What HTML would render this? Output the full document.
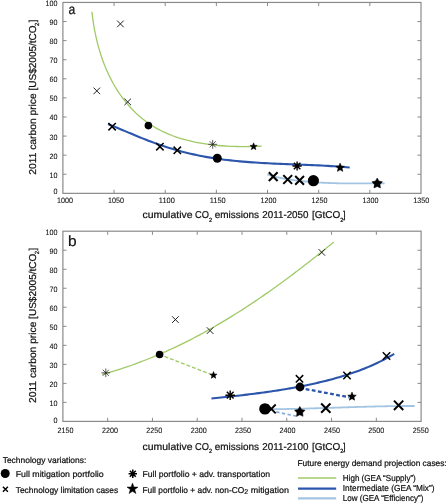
<!DOCTYPE html>
<html><head><meta charset="utf-8"><title>Figure</title>
<style>html,body{margin:0;padding:0;background:#fff}svg{display:block;will-change:transform}text{font-family:"Liberation Sans",sans-serif;fill:#111;stroke:#111;stroke-width:0.22px;text-rendering:geometricPrecision}text.t{stroke-width:0.08px}</style>
</head><body>
<svg width="446" height="503" viewBox="0 0 446 503">
<rect width="446" height="503" fill="#fff"/>
<!-- panel a -->
<g stroke="#8a8a8a" stroke-width="1.2" fill="none"><rect x="62.90" y="2.45" width="358.10" height="190.90"/><path d="M114.06 193.35v-3.60M114.06 2.45v3.60M165.21 193.35v-3.60M165.21 2.45v3.60M216.37 193.35v-3.60M216.37 2.45v3.60M267.53 193.35v-3.60M267.53 2.45v3.60M318.69 193.35v-3.60M318.69 2.45v3.60M369.84 193.35v-3.60M369.84 2.45v3.60M62.90 21.54h3.60M421.00 21.54h-3.60M62.90 40.63h3.60M421.00 40.63h-3.60M62.90 59.72h3.60M421.00 59.72h-3.60M62.90 78.81h3.60M421.00 78.81h-3.60M62.90 97.90h3.60M421.00 97.90h-3.60M62.90 116.99h3.60M421.00 116.99h-3.60M62.90 136.08h3.60M421.00 136.08h-3.60M62.90 155.17h3.60M421.00 155.17h-3.60M62.90 174.26h3.60M421.00 174.26h-3.60" stroke-width="1"/></g>
<text x="57.60" y="193.70" font-size="7.8" text-anchor="end" textLength="4.0" lengthAdjust="spacingAndGlyphs" class="t">0</text>
<text x="57.60" y="177.76" font-size="7.8" text-anchor="end" textLength="8.0" lengthAdjust="spacingAndGlyphs" class="t">10</text>
<text x="57.60" y="158.67" font-size="7.8" text-anchor="end" textLength="8.0" lengthAdjust="spacingAndGlyphs" class="t">20</text>
<text x="57.60" y="139.58" font-size="7.8" text-anchor="end" textLength="8.0" lengthAdjust="spacingAndGlyphs" class="t">30</text>
<text x="57.60" y="120.49" font-size="7.8" text-anchor="end" textLength="8.0" lengthAdjust="spacingAndGlyphs" class="t">40</text>
<text x="57.60" y="101.40" font-size="7.8" text-anchor="end" textLength="8.0" lengthAdjust="spacingAndGlyphs" class="t">50</text>
<text x="57.60" y="82.31" font-size="7.8" text-anchor="end" textLength="8.0" lengthAdjust="spacingAndGlyphs" class="t">60</text>
<text x="57.60" y="63.22" font-size="7.8" text-anchor="end" textLength="8.0" lengthAdjust="spacingAndGlyphs" class="t">70</text>
<text x="57.60" y="44.13" font-size="7.8" text-anchor="end" textLength="8.0" lengthAdjust="spacingAndGlyphs" class="t">80</text>
<text x="57.60" y="25.04" font-size="7.8" text-anchor="end" textLength="8.0" lengthAdjust="spacingAndGlyphs" class="t">90</text>
<text x="57.60" y="5.95" font-size="7.8" text-anchor="end" textLength="12.0" lengthAdjust="spacingAndGlyphs" class="t">100</text>
<text x="65.00" y="202.80" font-size="7.8" text-anchor="middle" textLength="16.0" lengthAdjust="spacingAndGlyphs" class="t">1000</text>
<text x="115.90" y="202.80" font-size="7.8" text-anchor="middle" textLength="16.0" lengthAdjust="spacingAndGlyphs" class="t">1050</text>
<text x="166.80" y="202.80" font-size="7.8" text-anchor="middle" textLength="16.0" lengthAdjust="spacingAndGlyphs" class="t">1100</text>
<text x="217.70" y="202.80" font-size="7.8" text-anchor="middle" textLength="16.0" lengthAdjust="spacingAndGlyphs" class="t">1150</text>
<text x="268.60" y="202.80" font-size="7.8" text-anchor="middle" textLength="16.0" lengthAdjust="spacingAndGlyphs" class="t">1200</text>
<text x="319.50" y="202.80" font-size="7.8" text-anchor="middle" textLength="16.0" lengthAdjust="spacingAndGlyphs" class="t">1250</text>
<text x="370.40" y="202.80" font-size="7.8" text-anchor="middle" textLength="16.0" lengthAdjust="spacingAndGlyphs" class="t">1300</text>
<text x="421.30" y="202.80" font-size="7.8" text-anchor="middle" textLength="16.0" lengthAdjust="spacingAndGlyphs" class="t">1350</text>
<text x="68.5" y="13.6" font-size="13.8" textLength="6.8" lengthAdjust="spacingAndGlyphs">a</text>
<path d="M91.92 11.70L92.25 14.68L92.62 17.69L93.04 20.71L93.50 23.74L94.00 26.78L94.55 29.83L95.15 32.88L95.79 35.94L96.48 38.99L97.22 42.05L98.00 45.10L98.84 48.14L99.73 51.17L100.67 54.19L101.66 57.20L102.71 60.19L103.81 63.17L104.96 66.12L106.17 69.05L107.44 71.95L108.76 74.82L110.15 77.66L111.59 80.47L113.09 83.25L114.65 85.98L116.27 88.68L117.96 91.33L119.71 93.94L121.51 96.50L123.38 99.01L125.30 101.47L127.28 103.88L129.32 106.22L131.42 108.51L133.57 110.74L135.78 112.90L138.04 114.99L140.36 117.02L142.73 118.98L145.15 120.86L147.63 122.66L150.16 124.39L152.73 126.04L155.36 127.61L158.03 129.10L160.75 130.52L163.51 131.87L166.31 133.14L169.15 134.35L172.02 135.49L174.93 136.56L177.87 137.57L180.84 138.51L183.83 139.39L186.85 140.22L189.90 140.98L192.97 141.69L196.05 142.34L199.15 142.94L202.27 143.48L205.40 143.98L208.54 144.43L211.69 144.83L214.85 145.18L218.01 145.49L221.18 145.76L224.34 145.98L227.51 146.17L230.66 146.32L233.82 146.43L236.96 146.51L240.10 146.56L243.22 146.57L246.33 146.56L249.43 146.52L252.50 146.45L255.55 146.35L258.59 146.23L261.59 146.09" stroke="#a0ca67" stroke-width="1.30" fill="none" stroke-linejoin="round"/>
<path d="M108.03 124.06L110.85 125.20L113.68 126.35L116.52 127.53L119.37 128.72L122.23 129.92L125.10 131.13L127.98 132.35L130.87 133.57L133.78 134.78L136.69 135.98L139.60 137.18L142.53 138.36L145.47 139.52L148.42 140.67L151.37 141.78L154.33 142.87L157.30 143.94L160.28 144.97L163.27 145.98L166.26 146.95L169.26 147.90L172.27 148.82L175.28 149.71L178.31 150.56L181.33 151.39L184.37 152.19L187.41 152.95L190.46 153.68L193.51 154.38L196.57 155.05L199.63 155.68L202.70 156.28L205.78 156.85L208.86 157.39L211.94 157.90L215.03 158.38L218.13 158.83L221.22 159.26L224.33 159.67L227.43 160.04L230.54 160.40L233.66 160.74L236.77 161.05L239.89 161.34L243.02 161.62L246.14 161.88L249.27 162.12L252.40 162.34L255.54 162.55L258.67 162.75L261.81 162.94L264.95 163.11L268.09 163.28L271.23 163.43L274.37 163.58L277.52 163.72L280.66 163.86L283.81 163.99L286.95 164.11L290.10 164.24L293.25 164.36L296.39 164.48L299.54 164.61L302.68 164.73L305.83 164.86L308.97 164.99L312.12 165.12L315.26 165.26L318.40 165.41L321.54 165.57L324.68 165.74L327.81 165.91L330.95 166.10L334.08 166.30L337.21 166.51L340.33 166.74L343.46 166.98L346.58 167.24L349.70 167.52" stroke="#2b56ab" stroke-width="2.10" fill="none" stroke-linejoin="round"/>
<path d="M267.37 174.48L268.81 174.93L270.25 175.36L271.69 175.78L273.13 176.18L274.58 176.55L276.03 176.92L277.48 177.26L278.94 177.59L280.39 177.91L281.85 178.21L283.31 178.50L284.78 178.77L286.24 179.03L287.71 179.28L289.18 179.51L290.65 179.74L292.12 179.95L293.59 180.16L295.07 180.36L296.55 180.54L298.02 180.72L299.51 180.89L300.99 181.06L302.47 181.21L303.95 181.36L305.44 181.51L306.93 181.65L308.42 181.78L309.91 181.90L311.40 182.02L312.89 182.13L314.38 182.24L315.87 182.34L317.37 182.44L318.86 182.53L320.36 182.61L321.86 182.69L323.35 182.77L324.85 182.84L326.35 182.90L327.85 182.97L329.35 183.02L330.85 183.07L332.35 183.12L333.85 183.17L335.35 183.21L336.85 183.24L338.35 183.28L339.85 183.31L341.35 183.33L342.86 183.36L344.36 183.38L345.86 183.39L347.36 183.41L348.86 183.42L350.36 183.43L351.86 183.44L353.36 183.44L354.86 183.45L356.36 183.45L357.85 183.45L359.35 183.44L360.85 183.44L362.35 183.43L363.84 183.43L365.34 183.42L366.83 183.41L368.32 183.40L369.81 183.39L371.30 183.38L372.79 183.37L374.28 183.36L375.77 183.35L377.26 183.34L378.74 183.33L380.22 183.32L381.71 183.31L383.19 183.30L384.67 183.29" stroke="#a3c5e3" stroke-width="1.80" fill="none" stroke-linejoin="round"/>
<path d="M117.10 20.60L123.70 27.20M117.10 27.20L123.70 20.60" stroke="#222" stroke-width="1.00" fill="none"/>
<path d="M93.50 87.60L100.10 94.20M93.50 94.20L100.10 87.60" stroke="#222" stroke-width="1.00" fill="none"/>
<path d="M124.40 98.60L131.00 105.20M124.40 105.20L131.00 98.60" stroke="#222" stroke-width="1.00" fill="none"/>
<circle cx="148.40" cy="125.60" r="3.80" fill="#000"/>
<path d="M208.30 144.30L217.10 144.30M209.59 141.19L215.81 147.41M212.70 139.90L212.70 148.70M215.81 141.19L209.59 147.41" stroke="#222" stroke-width="0.75" fill="none"/>
<polygon points="253.60,142.80 254.58,145.25 257.21,145.43 255.19,147.12 255.83,149.67 253.60,148.27 251.37,149.67 252.01,147.12 249.99,145.43 252.62,145.25" fill="#000" stroke="#000" stroke-width="0.5" stroke-linejoin="round"/>
<path d="M108.40 123.00L115.80 130.40M108.40 130.40L115.80 123.00" stroke="#000" stroke-width="1.50" fill="none"/>
<path d="M156.20 143.00L163.60 150.40M156.20 150.40L163.60 143.00" stroke="#000" stroke-width="1.50" fill="none"/>
<path d="M173.60 146.60L181.00 154.00M173.60 154.00L181.00 146.60" stroke="#000" stroke-width="1.50" fill="none"/>
<circle cx="217.30" cy="158.20" r="4.50" fill="#000"/>
<path d="M292.50 166.00L301.70 166.00M293.85 162.75L300.35 169.25M297.10 161.40L297.10 170.60M300.35 162.75L293.85 169.25" stroke="#000" stroke-width="1.40" fill="none"/>
<polygon points="340.10,163.10 341.34,165.99 344.47,166.28 342.11,168.35 342.80,171.42 340.10,169.82 337.40,171.42 338.09,168.35 335.73,166.28 338.86,165.99" fill="#000" stroke="#000" stroke-width="0.5" stroke-linejoin="round"/>
<path d="M268.80 172.20L277.60 181.00M268.80 181.00L277.60 172.20" stroke="#000" stroke-width="2.00" fill="none"/>
<path d="M283.30 175.10L292.10 183.90M283.30 183.90L292.10 175.10" stroke="#000" stroke-width="2.00" fill="none"/>
<path d="M295.20 176.00L304.00 184.80M295.20 184.80L304.00 176.00" stroke="#000" stroke-width="2.00" fill="none"/>
<circle cx="313.40" cy="180.70" r="5.60" fill="#000"/>
<polygon points="377.20,178.00 378.95,181.10 382.43,181.80 380.02,184.42 380.43,187.95 377.20,186.47 373.97,187.95 374.38,184.42 371.97,181.80 375.45,181.10" fill="#000" stroke="#000" stroke-width="0.5" stroke-linejoin="round"/>
<!-- panel b -->
<g stroke="#8a8a8a" stroke-width="1.2" fill="none"><rect x="62.90" y="231.20" width="358.20" height="190.20"/><path d="M107.68 421.40v-3.60M107.68 231.20v3.60M152.45 421.40v-3.60M152.45 231.20v3.60M197.23 421.40v-3.60M197.23 231.20v3.60M242.00 421.40v-3.60M242.00 231.20v3.60M286.78 421.40v-3.60M286.78 231.20v3.60M331.55 421.40v-3.60M331.55 231.20v3.60M376.33 421.40v-3.60M376.33 231.20v3.60M62.90 250.22h3.60M421.10 250.22h-3.60M62.90 269.24h3.60M421.10 269.24h-3.60M62.90 288.26h3.60M421.10 288.26h-3.60M62.90 307.28h3.60M421.10 307.28h-3.60M62.90 326.30h3.60M421.10 326.30h-3.60M62.90 345.32h3.60M421.10 345.32h-3.60M62.90 364.34h3.60M421.10 364.34h-3.60M62.90 383.36h3.60M421.10 383.36h-3.60M62.90 402.38h3.60M421.10 402.38h-3.60" stroke-width="1"/></g>
<text x="57.60" y="422.90" font-size="7.8" text-anchor="end" textLength="4.0" lengthAdjust="spacingAndGlyphs" class="t">0</text>
<text x="57.60" y="405.88" font-size="7.8" text-anchor="end" textLength="8.0" lengthAdjust="spacingAndGlyphs" class="t">10</text>
<text x="57.60" y="386.86" font-size="7.8" text-anchor="end" textLength="8.0" lengthAdjust="spacingAndGlyphs" class="t">20</text>
<text x="57.60" y="367.84" font-size="7.8" text-anchor="end" textLength="8.0" lengthAdjust="spacingAndGlyphs" class="t">30</text>
<text x="57.60" y="348.82" font-size="7.8" text-anchor="end" textLength="8.0" lengthAdjust="spacingAndGlyphs" class="t">40</text>
<text x="57.60" y="329.80" font-size="7.8" text-anchor="end" textLength="8.0" lengthAdjust="spacingAndGlyphs" class="t">50</text>
<text x="57.60" y="310.78" font-size="7.8" text-anchor="end" textLength="8.0" lengthAdjust="spacingAndGlyphs" class="t">60</text>
<text x="57.60" y="291.76" font-size="7.8" text-anchor="end" textLength="8.0" lengthAdjust="spacingAndGlyphs" class="t">70</text>
<text x="57.60" y="272.74" font-size="7.8" text-anchor="end" textLength="8.0" lengthAdjust="spacingAndGlyphs" class="t">80</text>
<text x="57.60" y="253.72" font-size="7.8" text-anchor="end" textLength="8.0" lengthAdjust="spacingAndGlyphs" class="t">90</text>
<text x="57.60" y="234.70" font-size="7.8" text-anchor="end" textLength="12.0" lengthAdjust="spacingAndGlyphs" class="t">100</text>
<text x="65.50" y="432.50" font-size="7.8" text-anchor="middle" textLength="16.0" lengthAdjust="spacingAndGlyphs" class="t">2150</text>
<text x="109.90" y="432.50" font-size="7.8" text-anchor="middle" textLength="16.0" lengthAdjust="spacingAndGlyphs" class="t">2200</text>
<text x="154.30" y="432.50" font-size="7.8" text-anchor="middle" textLength="16.0" lengthAdjust="spacingAndGlyphs" class="t">2250</text>
<text x="198.70" y="432.50" font-size="7.8" text-anchor="middle" textLength="16.0" lengthAdjust="spacingAndGlyphs" class="t">2300</text>
<text x="243.10" y="432.50" font-size="7.8" text-anchor="middle" textLength="16.0" lengthAdjust="spacingAndGlyphs" class="t">2350</text>
<text x="287.50" y="432.50" font-size="7.8" text-anchor="middle" textLength="16.0" lengthAdjust="spacingAndGlyphs" class="t">2400</text>
<text x="331.90" y="432.50" font-size="7.8" text-anchor="middle" textLength="16.0" lengthAdjust="spacingAndGlyphs" class="t">2450</text>
<text x="376.30" y="432.50" font-size="7.8" text-anchor="middle" textLength="16.0" lengthAdjust="spacingAndGlyphs" class="t">2500</text>
<text x="420.70" y="432.50" font-size="7.8" text-anchor="middle" textLength="16.0" lengthAdjust="spacingAndGlyphs" class="t">2550</text>
<text x="67.9" y="246.3" font-size="14.8" textLength="8.6" lengthAdjust="spacingAndGlyphs">b</text>
<path d="M102.15 374.45L105.46 373.53L108.76 372.59L112.04 371.61L115.32 370.61L118.58 369.59L121.84 368.54L125.08 367.46L128.31 366.36L131.53 365.24L134.73 364.09L137.93 362.92L141.12 361.72L144.29 360.50L147.46 359.25L150.62 357.98L153.76 356.69L156.89 355.38L160.02 354.05L163.13 352.69L166.23 351.31L169.33 349.91L172.41 348.49L175.48 347.05L178.55 345.59L181.60 344.11L184.64 342.61L187.68 341.09L190.70 339.55L193.72 337.99L196.72 336.41L199.72 334.81L202.70 333.20L205.68 331.56L208.65 329.91L211.61 328.25L214.56 326.56L217.50 324.86L220.43 323.14L223.35 321.41L226.27 319.66L229.17 317.89L232.07 316.11L234.96 314.32L237.84 312.50L240.71 310.68L243.57 308.84L246.43 306.99L249.27 305.12L252.11 303.24L254.94 301.35L257.76 299.44L260.58 297.52L263.38 295.59L266.18 293.65L268.97 291.69L271.76 289.73L274.53 287.75L277.30 285.76L280.06 283.76L282.81 281.75L285.56 279.74L288.30 277.71L291.03 275.67L293.75 273.62L296.47 271.57L299.18 269.50L301.88 267.43L304.58 265.35L307.27 263.26L309.95 261.17L312.62 259.06L315.29 256.96L317.96 254.84L320.61 252.72L323.26 250.59L325.91 248.46L328.54 246.32L331.18 244.17L333.80 242.02" stroke="#a0ca67" stroke-width="1.30" fill="none" stroke-linejoin="round"/>
<path d="M159.0 354.3L212.6 375.0" stroke="#a0ca67" stroke-width="1.4" stroke-dasharray="3.9 2.0" fill="none"/>
<path d="M211.45 398.54L213.80 398.30L216.15 398.05L218.51 397.80L220.87 397.55L223.23 397.30L225.60 397.05L227.97 396.79L230.34 396.53L232.71 396.26L235.09 396.00L237.47 395.73L239.85 395.45L242.23 395.17L244.62 394.89L247.00 394.60L249.39 394.31L251.78 394.01L254.17 393.71L256.56 393.40L258.95 393.09L261.34 392.77L263.73 392.44L266.12 392.11L268.51 391.77L270.90 391.42L273.29 391.07L275.68 390.71L278.07 390.34L280.45 389.96L282.84 389.58L285.22 389.18L287.61 388.78L289.99 388.37L292.36 387.95L294.74 387.52L297.11 387.08L299.48 386.63L301.85 386.17L304.22 385.70L306.58 385.21L308.94 384.72L311.29 384.22L313.64 383.70L315.99 383.18L318.33 382.64L320.67 382.09L323.00 381.53L325.33 380.95L327.66 380.36L329.98 379.76L332.29 379.14L334.60 378.51L336.90 377.86L339.20 377.20L341.49 376.52L343.78 375.82L346.06 375.11L348.33 374.38L350.60 373.62L352.86 372.85L355.11 372.06L357.35 371.25L359.59 370.42L361.82 369.57L364.04 368.69L366.25 367.79L368.46 366.87L370.66 365.92L372.85 364.95L375.03 363.96L377.20 362.94L379.36 361.89L381.51 360.82L383.66 359.72L385.79 358.59L387.91 357.44L390.03 356.25L392.13 355.04L394.22 353.80" stroke="#2b56ab" stroke-width="2.10" fill="none" stroke-linejoin="round"/>
<path d="M299.6 387.95L349 397.25" stroke="#2b56ab" stroke-width="2.3" stroke-dasharray="3.8 2.4" fill="none"/>
<path d="M265.00 409.31L266.90 409.30L268.79 409.28L270.69 409.26L272.58 409.24L274.48 409.22L276.37 409.19L278.27 409.16L280.16 409.13L282.06 409.10L283.95 409.07L285.85 409.03L287.74 409.00L289.64 408.96L291.53 408.91L293.43 408.87L295.32 408.83L297.22 408.78L299.11 408.73L301.01 408.69L302.90 408.64L304.80 408.59L306.69 408.53L308.59 408.48L310.48 408.43L312.38 408.37L314.27 408.32L316.17 408.26L318.06 408.20L319.95 408.14L321.85 408.08L323.74 408.03L325.64 407.97L327.53 407.91L329.43 407.85L331.32 407.79L333.22 407.73L335.11 407.66L337.01 407.60L338.90 407.54L340.80 407.48L342.69 407.42L344.58 407.36L346.48 407.30L348.37 407.24L350.27 407.19L352.16 407.13L354.06 407.07L355.95 407.01L357.85 406.96L359.74 406.90L361.64 406.85L363.53 406.79L365.43 406.74L367.32 406.69L369.22 406.64L371.11 406.59L373.00 406.55L374.90 406.50L376.79 406.45L378.69 406.41L380.58 406.37L382.48 406.33L384.37 406.29L386.27 406.26L388.16 406.22L390.06 406.19L391.95 406.16L393.85 406.13L395.74 406.10L397.64 406.08L399.54 406.06L401.43 406.04L403.33 406.02L405.22 406.01L407.12 406.00L409.01 405.99L410.91 405.98L412.80 405.98L414.70 405.98" stroke="#a3c5e3" stroke-width="1.80" fill="none" stroke-linejoin="round"/>
<path d="M276.2 411.9L298 416.5" stroke="#86aedb" stroke-width="1.7" stroke-dasharray="3.4 2.4" fill="none"/>
<path d="M101.50 372.80L110.10 372.80M102.76 369.76L108.84 375.84M105.80 368.50L105.80 377.10M108.84 369.76L102.76 375.84" stroke="#222" stroke-width="0.75" fill="none"/>
<circle cx="159.60" cy="354.50" r="3.80" fill="#000"/>
<path d="M172.10 316.30L178.70 322.90M172.10 322.90L178.70 316.30" stroke="#222" stroke-width="1.00" fill="none"/>
<path d="M206.80 327.30L213.40 333.90M206.80 333.90L213.40 327.30" stroke="#222" stroke-width="1.00" fill="none"/>
<path d="M318.50 249.10L325.10 255.70M318.50 255.70L325.10 249.10" stroke="#222" stroke-width="1.00" fill="none"/>
<polygon points="213.50,371.50 214.48,373.95 217.11,374.13 215.09,375.82 215.73,378.37 213.50,376.97 211.27,378.37 211.91,375.82 209.89,374.13 212.52,373.95" fill="#000" stroke="#000" stroke-width="0.5" stroke-linejoin="round"/>
<path d="M225.40 395.20L235.00 395.20M226.81 391.81L233.59 398.59M230.20 390.40L230.20 400.00M233.59 391.81L226.81 398.59" stroke="#000" stroke-width="1.40" fill="none"/>
<path d="M295.80 375.10L303.20 382.50M295.80 382.50L303.20 375.10" stroke="#000" stroke-width="1.50" fill="none"/>
<circle cx="300.00" cy="387.00" r="4.40" fill="#000"/>
<path d="M343.30 371.80L350.70 379.20M343.30 379.20L350.70 371.80" stroke="#000" stroke-width="1.50" fill="none"/>
<path d="M382.80 352.30L390.20 359.70M382.80 359.70L390.20 352.30" stroke="#000" stroke-width="1.50" fill="none"/>
<polygon points="352.00,392.10 353.22,394.93 356.28,395.21 353.97,397.24 354.65,400.24 352.00,398.67 349.35,400.24 350.03,397.24 347.72,395.21 350.78,394.93" fill="#000" stroke="#000" stroke-width="0.5" stroke-linejoin="round"/>
<circle cx="264.90" cy="408.90" r="5.70" fill="#000"/>
<path d="M266.90 404.50L275.70 413.30M266.90 413.30L275.70 404.50" stroke="#000" stroke-width="1.80" fill="none"/>
<polygon points="299.80,406.40 301.55,409.50 305.03,410.20 302.62,412.82 303.03,416.35 299.80,414.87 296.57,416.35 296.98,412.82 294.57,410.20 298.05,409.50" fill="#000" stroke="#000" stroke-width="0.5" stroke-linejoin="round"/>
<path d="M321.15 403.45L330.45 412.75M321.15 412.75L330.45 403.45" stroke="#000" stroke-width="2.00" fill="none"/>
<path d="M393.95 400.65L403.25 409.95M393.95 409.95L403.25 400.65" stroke="#000" stroke-width="2.00" fill="none"/>
<g transform="translate(36.30 174.70) rotate(-90)"><text x="0.00" y="0.00" font-size="10" textLength="81.40" lengthAdjust="spacingAndGlyphs">2011 carbon price</text><text x="84.10" y="0.00" font-size="10" textLength="65.30" lengthAdjust="spacingAndGlyphs">[US$2005/tCO</text><text x="148.70" y="3.00" font-size="6" textLength="3.30" lengthAdjust="spacingAndGlyphs">2</text><text x="152.40" y="0.00" font-size="10" textLength="2.70" lengthAdjust="spacingAndGlyphs">]</text></g>
<g transform="translate(36.30 403.00) rotate(-90)"><text x="0.00" y="0.00" font-size="10" textLength="81.40" lengthAdjust="spacingAndGlyphs">2011 carbon price</text><text x="84.10" y="0.00" font-size="10" textLength="65.30" lengthAdjust="spacingAndGlyphs">[US$2005/tCO</text><text x="148.70" y="3.00" font-size="6" textLength="3.30" lengthAdjust="spacingAndGlyphs">2</text><text x="152.40" y="0.00" font-size="10" textLength="2.70" lengthAdjust="spacingAndGlyphs">]</text></g>
<text x="142.60" y="218.30" font-size="10" textLength="49.90" lengthAdjust="spacingAndGlyphs">cumulative</text><text x="195.00" y="218.30" font-size="10" textLength="13.90" lengthAdjust="spacingAndGlyphs">CO</text><text x="208.90" y="222.00" font-size="6" textLength="3.10" lengthAdjust="spacingAndGlyphs">2</text><text x="214.80" y="218.30" font-size="10" textLength="44.20" lengthAdjust="spacingAndGlyphs">emissions</text><text x="262.30" y="218.30" font-size="10" textLength="46.20" lengthAdjust="spacingAndGlyphs">2011-2050</text><text x="312.00" y="218.30" font-size="10" textLength="28.30" lengthAdjust="spacingAndGlyphs">[GtCO</text><text x="340.20" y="222.00" font-size="6" textLength="3.10" lengthAdjust="spacingAndGlyphs">2</text><text x="343.00" y="218.30" font-size="10" textLength="2.60" lengthAdjust="spacingAndGlyphs">]</text>
<text x="142.60" y="449.60" font-size="10" textLength="49.90" lengthAdjust="spacingAndGlyphs">cumulative</text><text x="195.00" y="449.60" font-size="10" textLength="13.90" lengthAdjust="spacingAndGlyphs">CO</text><text x="208.90" y="453.30" font-size="6" textLength="3.10" lengthAdjust="spacingAndGlyphs">2</text><text x="214.80" y="449.60" font-size="10" textLength="44.20" lengthAdjust="spacingAndGlyphs">emissions</text><text x="262.30" y="449.60" font-size="10" textLength="46.20" lengthAdjust="spacingAndGlyphs">2011-2100</text><text x="312.00" y="449.60" font-size="10" textLength="28.30" lengthAdjust="spacingAndGlyphs">[GtCO</text><text x="340.20" y="453.30" font-size="6" textLength="3.10" lengthAdjust="spacingAndGlyphs">2</text><text x="343.00" y="449.60" font-size="10" textLength="2.60" lengthAdjust="spacingAndGlyphs">]</text>
<!-- legend -->
<text x="2.7" y="462.6" font-size="8.3" textLength="83.6" lengthAdjust="spacingAndGlyphs">Technology variations:</text>
<circle cx="5.20" cy="473.50" r="4.50" fill="#000"/>
<text x="15.7" y="476.8" font-size="8.5" textLength="88" lengthAdjust="spacingAndGlyphs">Full mitigation portfolio</text>
<path d="M2.90 486.70L7.90 491.70M2.90 491.70L7.90 486.70" stroke="#000" stroke-width="1.40" fill="none"/>
<text x="15.7" y="492.6" font-size="8.5" textLength="102.5" lengthAdjust="spacingAndGlyphs">Technology limitation cases</text>
<path d="M128.60 473.70L137.00 473.70M129.83 470.73L135.77 476.67M132.80 469.50L132.80 477.90M135.77 470.73L129.83 476.67" stroke="#000" stroke-width="1.50" fill="none"/>
<text x="142.5" y="476.8" font-size="8.5" textLength="127.5" lengthAdjust="spacingAndGlyphs">Full portfolio + adv. transportation</text>
<polygon points="132.50,483.10 133.86,487.02 138.02,487.11 134.71,489.62 135.91,493.59 132.50,491.22 129.09,493.59 130.29,489.62 126.98,487.11 131.14,487.02" fill="#000" stroke="#000" stroke-width="0.5" stroke-linejoin="round"/>
<text x="142.5" y="492.6" font-size="8.5" textLength="101.7" lengthAdjust="spacingAndGlyphs">Full portfolio + adv. non-CO</text>
<text x="244.3" y="493.9" font-size="6.8" textLength="3.9" lengthAdjust="spacingAndGlyphs">2</text>
<text x="250.7" y="492.6" font-size="8.5" textLength="38.3" lengthAdjust="spacingAndGlyphs">mitigation</text>
<text x="297.5" y="466.4" font-size="8.3" textLength="149.2" lengthAdjust="spacingAndGlyphs">Future energy demand projection cases:</text>
<path d="M298 478H336.2" stroke="#a0ca67" stroke-width="1.6"/>
<path d="M298 488.6H336.2" stroke="#2b56ab" stroke-width="2.1"/>
<path d="M298 498.4H336.2" stroke="#a3c5e3" stroke-width="2.2"/>
<text x="342.8" y="480.7" font-size="8.7" textLength="73.0" lengthAdjust="spacingAndGlyphs">High (GEA “Supply”)</text>
<text x="342.8" y="491.1" font-size="8.7" textLength="91.7" lengthAdjust="spacingAndGlyphs">Intermediate (GEA “Mix”)</text>
<text x="342.8" y="501.0" font-size="8.7" textLength="80.6" lengthAdjust="spacingAndGlyphs">Low (GEA “Efficiency”)</text>
</svg></body></html>
